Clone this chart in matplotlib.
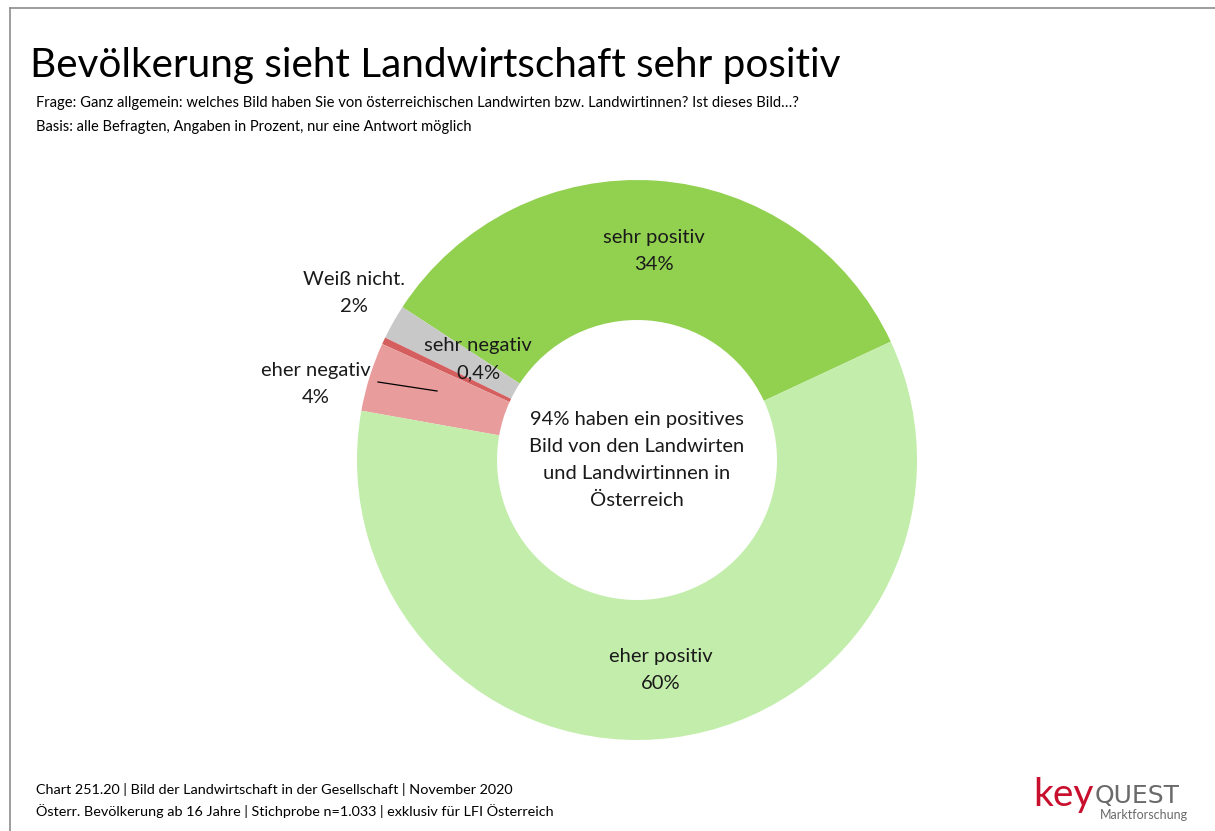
import matplotlib
matplotlib.use("Agg")
import matplotlib.pyplot as plt
from matplotlib.lines import Line2D

plt.rcParams['font.family'] = ['Lato', 'DejaVu Sans']

# Data
categories = ["sehr positiv", "Weiß nicht.", "sehr negativ", "eher negativ", "eher positiv"]
values = [34, 2, 0.4, 4, 60]
value_labels = ["34%", "2%", "0,4%", "4%", "60%"]
colors = ["#92D050", "#C8C8C8", "#D55E5E", "#E89C9C", "#C3EDAB"]

title = "Bevölkerung sieht Landwirtschaft sehr positiv"
subtitle1 = "Frage: Ganz allgemein: welches Bild haben Sie von österreichischen Landwirten bzw. Landwirtinnen? Ist dieses Bild…?"
subtitle2 = "Basis: alle Befragten, Angaben in Prozent, nur eine Antwort möglich"
center_text = "94% haben ein positives\nBild von den Landwirten\nund Landwirtinnen in\nÖsterreich"
foot1 = "Chart 251.20 | Bild der Landwirtschaft in der Gesellschaft | November 2020"
foot2 = "Österr. Bevölkerung ab 16 Jahre | Stichprobe n=1.033 | exklusiv für LFI Österreich"

W, H = 1215, 831
fig = plt.figure(figsize=(W / 100, H / 100), dpi=100)
fig.patch.set_facecolor("white")

# Frame lines (left and top)
fig.add_artist(Line2D([10 / W, 10 / W], [0, 1 - 8 / H], color="#8C8C8C", lw=1.2, transform=fig.transFigure))
fig.add_artist(Line2D([10 / W, 1], [1 - 8 / H, 1 - 8 / H], color="#8C8C8C", lw=1.2, transform=fig.transFigure))

# Donut
cx, cy, R = 637, 460, 280
ax = fig.add_axes([(cx - R) / W, (H - cy - R) / H, 2 * R / W, 2 * R / H])
ax.pie(values, colors=colors, startangle=25, counterclock=True,
       wedgeprops=dict(width=0.5, edgecolor="none"), radius=1)
ax.set_xlim(-1, 1)
ax.set_ylim(-1, 1)
ax.set_aspect("auto")
ax.axis("off")

def px(xp, yp):
    return (xp - cx) / R, (cy - yp) / R

label_pos = [(654, 251), (354, 293), (478, 359), (316, 384), (661, 670)]
for cat, vl, (xp, yp) in zip(categories, value_labels, label_pos):
    x, y = px(xp, yp)
    ax.text(x, y, f"{cat}\n{vl}", ha="center", va="center", fontsize=14.5,
            color="#1a1a1a", linespacing=1.78, clip_on=False)

# leader line for eher negativ
x1, y1 = px(378, 382)
x2, y2 = px(437, 391)
ax.plot([x1, x2], [y1, y2], color="black", lw=0.9, clip_on=False)

ax.text(0, 0.0, center_text, ha="center", va="center", fontsize=14.5,
        color="#1a1a1a", linespacing=1.72)

# Titles
fig.text(30 / W, 1 - 66 / H, title, ha="left", va="center", fontsize=29.2, color="black")
fig.text(36 / W, 1 - 103 / H, subtitle1, ha="left", va="center", fontsize=10.6, color="black")
fig.text(36 / W, 1 - 127 / H, subtitle2, ha="left", va="center", fontsize=10.5, color="black")

# Footer
fig.text(36 / W, 1 - 789 / H, foot1, ha="left", va="center", fontsize=10.4, color="black")
fig.text(36 / W, 1 - 811 / H, foot2, ha="left", va="center", fontsize=10.4, color="black")

# Logo
fig.text(1094 / W, 1 - 795 / H, "key", ha="right", va="center", fontsize=28, color="#C8102E")
fig.text(1095 / W, 1 - 796 / H, "QUEST", ha="left", va="center", fontsize=18,
         color="#6A6A6A", family="DejaVu Sans")
fig.text(1188 / W, 1 - 815 / H, "Marktforschung", ha="right", va="center", fontsize=9, color="#6A6A6A")

fig.savefig("out.png", dpi=100, facecolor="white")
